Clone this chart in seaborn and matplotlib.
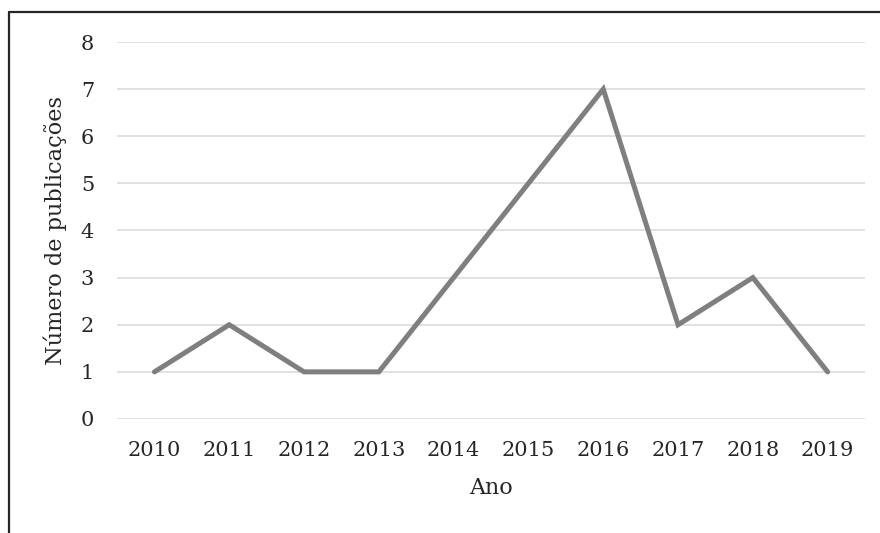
#!/usr/bin/env python3

import pandas as pd
from matplotlib import pyplot as plt
from matplotlib.lines import Line2D
import seaborn as sns

anos = ["2010", "2011", "2012", "2013", "2014", "2015", "2016", "2017", "2018", "2019"]
publicacoes = [1, 2, 1, 1, 3, 5, 7, 2, 3, 1]

df = pd.DataFrame({"Ano": anos, "Publicacoes": publicacoes})

sns.set_style("white")
plt.rcParams['font.family'] = ['DejaVu Serif']

fig = plt.figure(figsize=(8.8, 5.33), dpi=100)
ax = fig.add_axes([0.133, 0.2139, 0.85, 0.7073])

sns.lineplot(x="Ano", y="Publicacoes", data=df, ax=ax, color="#7f7f7f",
             linewidth=3.6, solid_capstyle="round", solid_joinstyle="miter",
             sort=False, zorder=3)

ax.set_ylim(0, 8)
ax.set_xlim(-0.5, len(anos) - 0.5)
ax.set_yticks(range(0, 9))
ax.grid(visible=True, axis='y', color='#d9d9d9', linewidth=1.1, zorder=1)
ax.grid(visible=False, axis='x')
for s in ax.spines.values():
    s.set_visible(False)
ax.tick_params(axis='both', length=0, labelsize=15, colors='#262626')
ax.tick_params(axis='y', pad=16.5)
ax.tick_params(axis='x', pad=16)
for l in ax.get_lines():
    l.set_clip_on(False)

ax.set_xlabel("Ano", fontsize=16, color='#262626', labelpad=12)
ax.set_ylabel("Número de publicações", fontsize=16.2, color='#262626', labelpad=10)

# outer frame (top and left edges visible in the reference)
fig.add_artist(Line2D([8.5 / 880, 8.5 / 880], [0, 1 - 12 / 533], color='#262626', linewidth=1.6))
fig.add_artist(Line2D([8.5 / 880, 1], [1 - 12 / 533, 1 - 12 / 533], color='#262626', linewidth=1.6))

plt.savefig("out.png", dpi=100)
